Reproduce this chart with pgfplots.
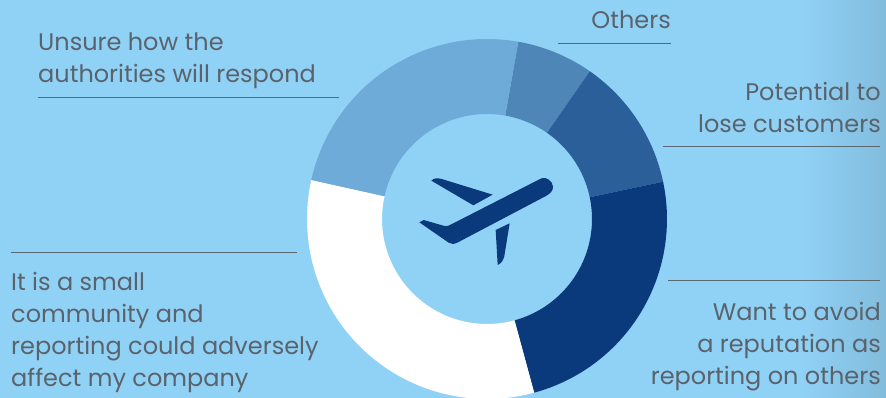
\documentclass[border=0pt]{standalone}
\usepackage{pgfplots}
\pgfplotsset{compat=1.18}
\usepackage{pgfplotstable}
\usepackage{fontspec}
\setmainfont{Poppins}

\definecolor{sky}{HTML}{90D2F6}
\definecolor{skyedge}{HTML}{82BCDD}
\definecolor{inktext}{HTML}{5A626C}
\definecolor{ruleink}{HTML}{5C6772}
\definecolor{sliceA}{HTML}{6FABD8}
\definecolor{sliceB}{HTML}{4F86B8}
\definecolor{sliceC}{HTML}{2B5F9A}
\definecolor{sliceD}{HTML}{0B3A7C}
\definecolor{sliceE}{HTML}{FFFFFF}

% Share of answers per reason, clockwise from the slice at 10 degrees past north
\pgfplotstableread{
share colour
6.9  sliceB
12.0 sliceC
24.1 sliceD
32.7 sliceE
24.3 sliceA
}\sharetable

\newcommand\cx{487}
\newcommand\cy{179}
\newcommand\Router{180}
\newcommand\Rinner{105}

% Ring sector between two clockwise bearings, as a filled plot
\newcommand\ringslice[3]{%
  \gdef\ringpts{}%
  \pgfmathsetmacro\ringstep{(#2-#1)/48}%
  \foreach \k in {0,...,48}{%
    \pgfmathsetmacro\ringa{#1+\k*\ringstep}%
    \pgfmathsetmacro\ringx{\cx+\Router*sin(\ringa)}%
    \pgfmathsetmacro\ringy{\cy+\Router*cos(\ringa)}%
    \xdef\ringpts{\ringpts (\ringx,\ringy)}%
  }%
  \foreach \k in {48,47,...,0}{%
    \pgfmathsetmacro\ringa{#1+\k*\ringstep}%
    \pgfmathsetmacro\ringx{\cx+\Rinner*sin(\ringa)}%
    \pgfmathsetmacro\ringy{\cy+\Rinner*cos(\ringa)}%
    \xdef\ringpts{\ringpts (\ringx,\ringy)}%
  }%
  \edef\ringcmd{\noexpand\addplot[fill=#3,draw=none,forget plot] coordinates {\ringpts};}%
  \ringcmd
}

\newcommand\lab[4]{\node[anchor=base #1,inner sep=0pt,font=\fontsize{24}{24}\selectfont,text=inktext] at (axis cs:#2,{398-#3}) {#4};}
\newcommand\leader[3]{\draw[ruleink,line width=1.2pt] (axis cs:#1,{398-#3}) -- (axis cs:#2,{398-#3});}
% Icon outline points, given on a 3:1 grid whose origin is at (380,110)
\newcommand\Z[2]{(axis cs:{380+#1/3},{288-#2/3})}

\begin{document}
\begin{tikzpicture}
\begin{axis}[
  scale only axis,
  width=886pt,height=398pt,
  xmin=0,xmax=886,ymin=0,ymax=398,
  hide axis,
  clip=true,
]
% Background with the darker band at the right edge
\fill[sky] (axis cs:0,0) rectangle (axis cs:800,398);
\shade[left color=sky,right color=skyedge,shading angle=90,draw=none] (axis cs:799.5,0) rectangle (axis cs:886,398);

% Ring slices, bearings accumulated from the shares in the table
\pgfplotstablegetrowsof{\sharetable}
\pgfmathtruncatemacro\lastrow{\pgfplotsretval-1}
\gdef\bearing{10}
\pgfplotsforeachungrouped \r in {0,...,\lastrow}{%
  \pgfplotstablegetelem{\r}{share}\of\sharetable
  \pgfmathsetmacro\nextbearing{\bearing+3.6*\pgfplotsretval}%
  \pgfplotstablegetelem{\r}{colour}\of\sharetable
  \edef\slicecolour{\pgfplotsretval}%
  \edef\doslice{\noexpand\ringslice{\bearing}{\nextbearing}{\slicecolour}}%
  \doslice
  \xdef\bearing{\nextbearing}%
}

% Aeroplane icon
\fill[sliceD] \Z{118}{337} -- \Z{131}{330} -- \Z{190}{347} .. controls \Z{198}{349} and \Z{203}{349} .. \Z{208}{346}
  -- \Z{484}{205} .. controls \Z{500}{199} and \Z{518}{214} .. \Z{519}{230} .. controls \Z{520}{244} and \Z{508}{252} .. \Z{498}{258}
  -- \Z{232}{398} .. controls \Z{222}{403} and \Z{214}{403} .. \Z{206}{398} -- cycle;
\fill[sliceD] \Z{154}{212} .. controls \Z{160}{205} and \Z{172}{203} .. \Z{185}{207} -- \Z{338}{254} -- \Z{280}{286} -- cycle;
\fill[sliceD] \Z{347}{360} -- \Z{389}{340} -- \Z{373}{438} .. controls \Z{370}{452} and \Z{363}{461} .. \Z{353}{465} -- cycle;

% Reason labels and their rules
\lab{west}{38}{50.5}{Unsure how the}
\lab{west}{38}{82.5}{authorities will respond}
\leader{38}{339}{97.5}
\lab{east}{671}{28.5}{Others}
\leader{558}{671}{43.7}
\lab{east}{881}{100.5}{Potential to}
\lab{east}{881}{132.5}{lose customers}
\leader{663}{880}{146.7}
\leader{668}{880}{280.7}
\lab{east}{881}{320.5}{Want to avoid}
\lab{east}{881}{352.5}{a reputation as}
\lab{east}{881}{384.5}{reporting on others}
\leader{11}{297}{252.3}
\lab{west}{11}{290.5}{It is a small}
\lab{west}{11}{322.5}{community and}
\lab{west}{11}{354.5}{reporting could adversely}
\lab{west}{11}{386.5}{affect my company}
\end{axis}
\end{tikzpicture}
\end{document}
